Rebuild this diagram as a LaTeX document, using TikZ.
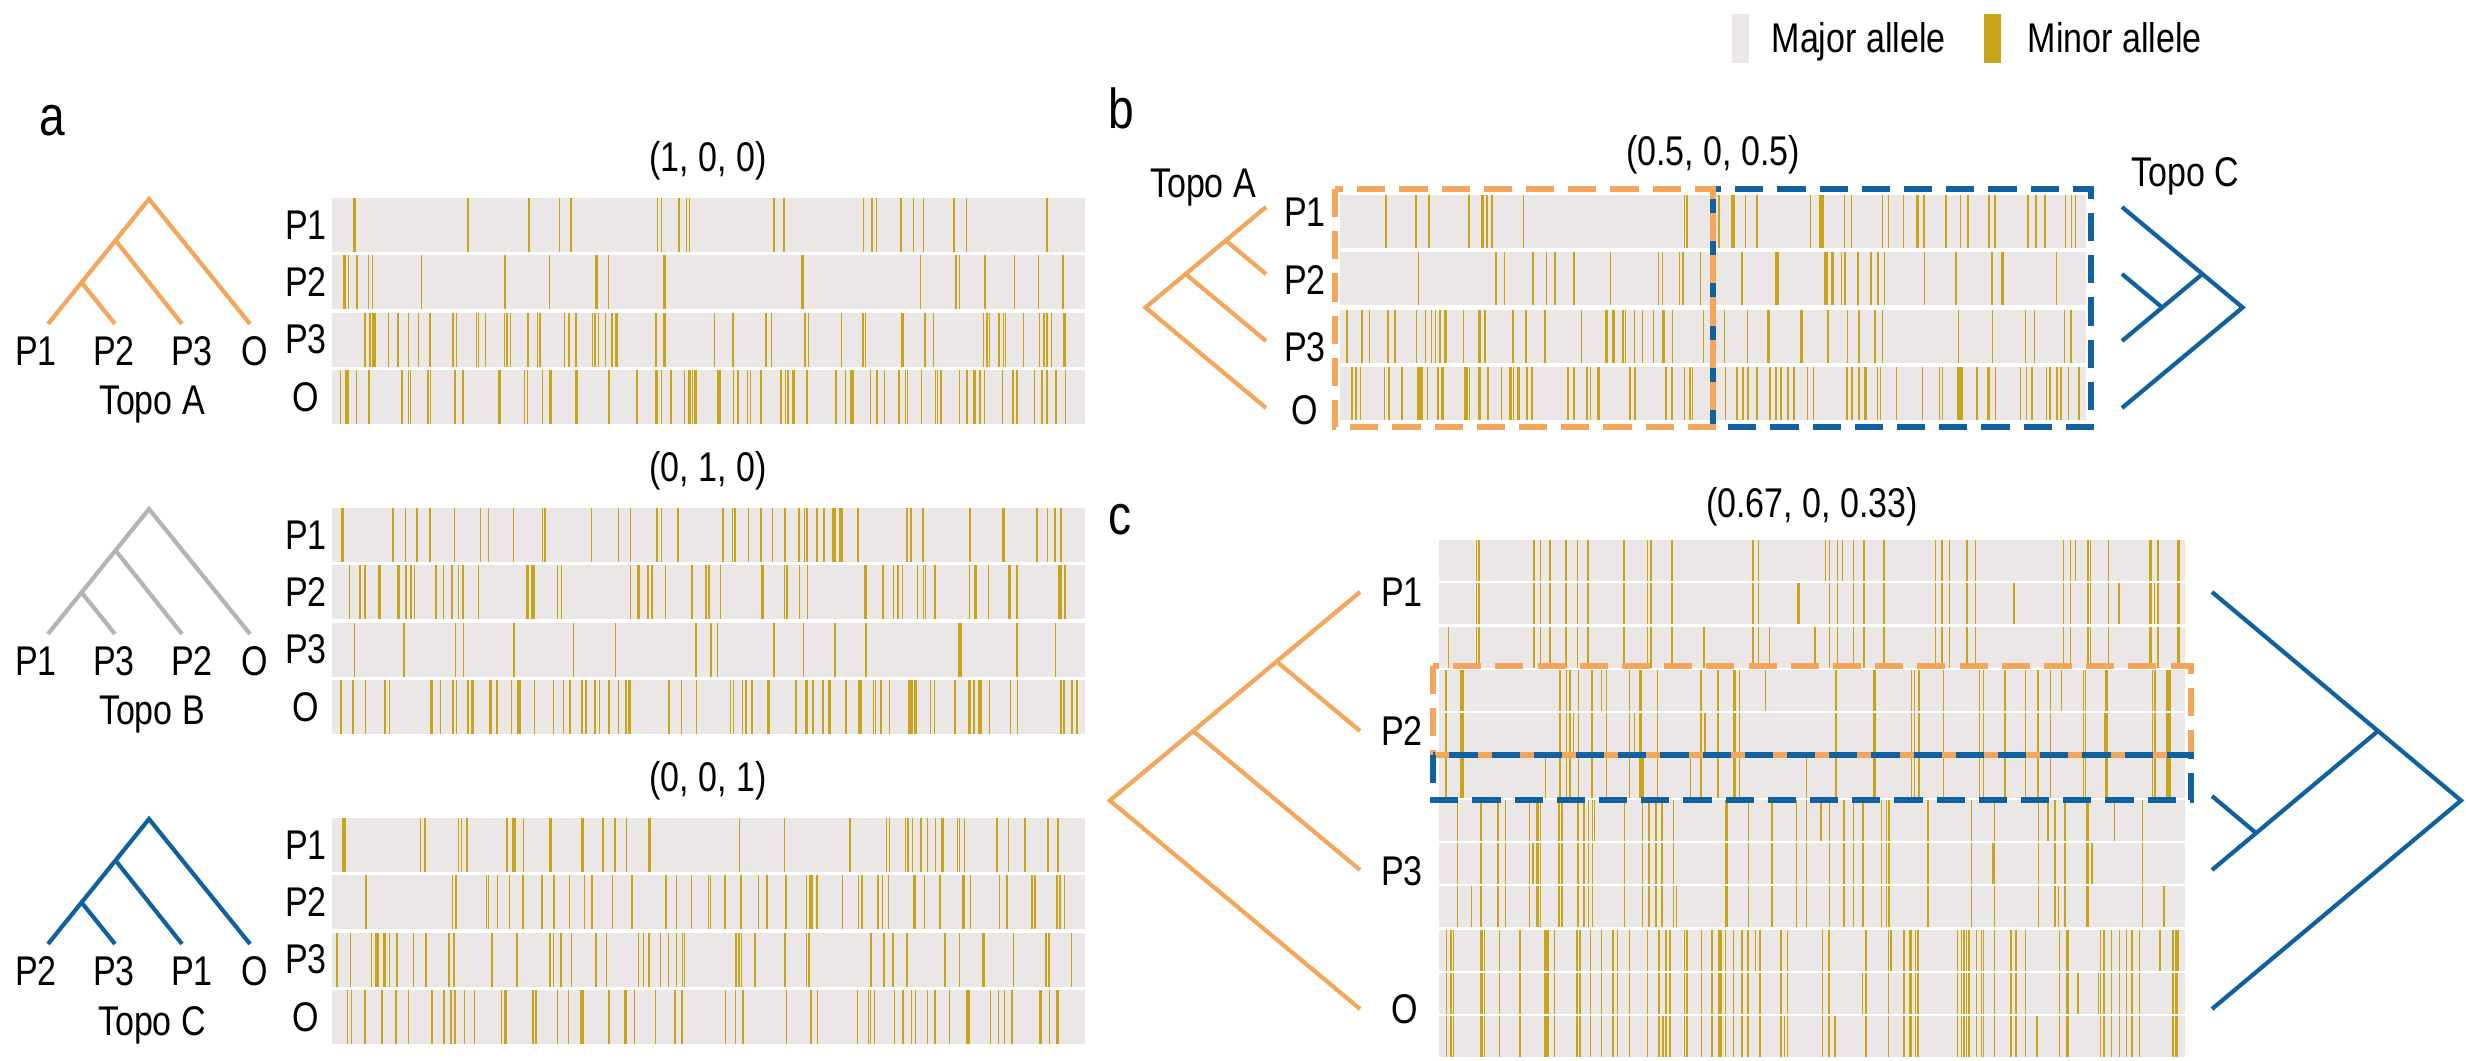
\documentclass[tikz,border=0pt]{standalone}
\usepackage{fontspec}
\setmainfont{Liberation Sans}[FakeStretch=0.82]

\definecolor{topoA}{RGB}{245,166,91}
\definecolor{topoB}{RGB}{180,180,180}
\definecolor{topoC}{RGB}{16,97,160}
\definecolor{major}{RGB}{235,231,231}
\definecolor{minor}{RGB}{199,164,24}

\tikzset{
  branch/.style={line width=1.2pt},
  lab/.style={font=\fontsize{11.8}{14}\selectfont, inner sep=0pt},
  panel/.style={font=\fontsize{16}{19}\selectfont, inner sep=0pt},
  dbox/.style={line width=1.6pt, dash pattern=on 8pt off 4pt},
}

% minor allele sites: x0, top, width, height, count, seed
\newcommand{\hapsites}[6]{%
  \pgfmathsetseed{#6}%
  \foreach \k in {1,...,#5}{%
    \pgfmathsetmacro{\sx}{#1+3+rnd*(#3-9)}%
    \pgfmathsetmacro{\sw}{1.2+3*rnd*rnd*rnd}%
    \fill[minor] (\sx,{#2}) rectangle ++(\sw,#4);%
  }%
}
\newcommand{\haptrack}[6]{%
  \fill[major] ({#1},{#2}) rectangle ++({#3},{#4});%
  \hapsites{#1}{#2}{#3}{#4}{#5}{#6}%
}
% small tree of panel a: name, shift, colour, leaf labels, topo letter
\newcommand{\topotree}[7]{%
  \begin{scope}[shift={(0,#2)}]
    \coordinate (#1r) at (149,199);
    \coordinate (#1n1) at (116,241);
    \coordinate (#1n2) at (82,283);
    \coordinate (#1l1) at (48,324);
    \coordinate (#1l2) at (115,324);
    \coordinate (#1l3) at (182,324);
    \coordinate (#1l4) at (250,324);
    \draw[branch,#3] (#1l1) -- (#1r) -- (#1l4);
    \draw[branch,#3] (#1n1) -- (#1l3);
    \draw[branch,#3] (#1n2) -- (#1l2);
    \node[lab] (#1a) at (36,351) {#4};
    \node[lab] (#1b) at (114,351) {#5};
    \node[lab] (#1c) at (192,351) {#6};
    \node[lab] (#1d) at (255,351) {O};
    \node[lab,anchor=base] (#1t) at (152,415) {Topo #7};
  \end{scope}}

\begin{document}
\begin{tikzpicture}[x=0.01cm, y=-0.01cm]
  \useasboundingbox (0,0) rectangle (2466,1061);

  %%%%% LEGEND %%%%%
  \fill[major] (1732,14) rectangle (1749,63);
  \node[lab,anchor=base west] (majtxt) at (1771,53) {Major allele};
  \fill[minor] (1984,14) rectangle (2001,63);
  \node[lab,anchor=base west] (mintxt) at (2027,53) {Minor allele};

  %%%%% PANEL A %%%%%
  \node[panel] (pa) at (52,121) {a};
  \topotree{tA}{0}{topoA}{P1}{P2}{P3}{A}
  \topotree{tB}{310}{topoB}{P1}{P3}{P2}{B}
  \topotree{tC}{620}{topoC}{P2}{P3}{P1}{C}

  \node[lab] (ta1) at (708,161) {(1, 0, 0)};
  \haptrack{332}{198}{753}{54}{22}{101}
  \haptrack{332}{255.3}{753}{54}{22}{102}
  \haptrack{332}{312.6}{753}{54}{60}{103}
  \haptrack{332}{369.9}{753}{54}{72}{104}

  \node[lab] (ta2) at (708,471) {(0, 1, 0)};
  \haptrack{332}{508}{753}{54}{45}{111}
  \haptrack{332}{565.3}{753}{54}{60}{112}
  \haptrack{332}{622.6}{753}{54}{18}{113}
  \haptrack{332}{679.9}{753}{54}{75}{114}

  \node[lab] (ta3) at (708,781) {(0, 0, 1)};
  \haptrack{332}{818}{753}{54}{42}{121}
  \haptrack{332}{875.3}{753}{54}{50}{122}
  \haptrack{332}{932.6}{753}{54}{50}{123}
  \haptrack{332}{989.9}{753}{54}{56}{124}

  \foreach \g in {0,1,2}{
    \foreach \r [count=\i from 0] in {P1,P2,P3,O}
      \node[lab] (a\g\r) at (306,{225+310*\g+57.3*\i}) {\r};
  }

  %%%%% PANEL B %%%%%
  \node[panel] (pb) at (1121,108) {b};
  \node[lab] (tb) at (1713,155) {(0.5, 0, 0.5)};
  \foreach \nl/\nr/\sa/\sb [count=\i from 0] in {10/28/201/251, 14/16/202/252, 32/16/203/253, 45/40/204/254}{
    \pgfmathsetmacro{\yy}{195+57.3*\i}
    \fill[major] (1340,\yy) rectangle ++(746,53);
    \hapsites{1340}{\yy}{373}{53}{\nl}{\sa}
    \hapsites{1713}{\yy}{373}{53}{\nr}{\sb}
  }
  \draw[dbox,topoC] (1713,189) rectangle (2091,427);
  \draw[dbox,topoA] (1335,189) rectangle (1713,427);

  % Topo A, pointing left
  \coordinate (bAr) at (1145.4,307.5);
  \coordinate (bAn1) at (1185.6,274);
  \coordinate (bAn2) at (1225.8,240.5);
  \coordinate (bAl1) at (1266,207);
  \coordinate (bAl2) at (1266,274);
  \coordinate (bAl3) at (1266,341);
  \coordinate (bAl4) at (1266,408);
  \draw[branch,topoA] (bAl1) -- (bAr) -- (bAl4);
  \draw[branch,topoA] (bAn1) -- (bAl3);
  \draw[branch,topoA] (bAn2) -- (bAl2);
  \node[lab,anchor=base] (bAt) at (1203,198) {Topo A};

  % Topo C, pointing right
  \coordinate (bCr) at (2242.6,307.5);
  \coordinate (bCn1) at (2202.4,274);
  \coordinate (bCn2) at (2162.2,307.5);
  \coordinate (bCl1) at (2122,207);
  \coordinate (bCl2) at (2122,274);
  \coordinate (bCl3) at (2122,341);
  \coordinate (bCl4) at (2122,408);
  \draw[branch,topoC] (bCl1) -- (bCr) -- (bCl4);
  \draw[branch,topoC] (bCn1) -- (bCl3);
  \draw[branch,topoC] (bCn2) -- (bCl2);
  \node[lab,anchor=base] (bCt) at (2185,187) {Topo C};

  \node[lab] (bP1) at (1305,212) {P1};
  \node[lab] (bP2) at (1305,280) {P2};
  \node[lab] (bP3) at (1305,347) {P3};
  \node[lab] (bO) at (1305,410) {O};

  %%%%% PANEL C %%%%%
  \node[panel] (pc) at (1120,520) {c};
  \node[lab] (tc) at (1812,507) {(0.67, 0, 0.33)};
  \foreach \p/\n/\s [count=\j from 0] in {P1/36/301, P2/40/302, P3/40/303, O/75/304}{
    \foreach \i in {0,1,2}{
      \pgfmathsetmacro{\yy}{540+43.3*(3*\j+\i)}
      \pgfmathtruncatemacro{\se}{\s+10*(\i+1)}
      \haptrack{1439}{\yy}{746}{41}{\n}{\s}
      \hapsites{1439}{\yy}{746}{41}{4}{\se}
    }
  }
  \draw[dbox,topoA] (1433,666) rectangle (2191,755);
  \draw[dbox,topoC] (1433,755) rectangle (2191,800);

  % Topo A, pointing left
  \coordinate (cAr) at (1109.8,800.5);
  \coordinate (cAn1) at (1193.2,731);
  \coordinate (cAn2) at (1276.6,661.5);
  \coordinate (cAl1) at (1360,592);
  \coordinate (cAl2) at (1360,731);
  \coordinate (cAl3) at (1360,870);
  \coordinate (cAl4) at (1360,1009);
  \draw[branch,topoA] (cAl1) -- (cAr) -- (cAl4);
  \draw[branch,topoA] (cAn1) -- (cAl3);
  \draw[branch,topoA] (cAn2) -- (cAl2);

  % Topo C, pointing right
  \coordinate (cCr) at (2461,800.5);
  \coordinate (cCn1) at (2378,731);
  \coordinate (cCn2) at (2256,833);
  \coordinate (cCl1) at (2212,592);
  \coordinate (cCl2) at (2212,796);
  \coordinate (cCl3) at (2212,870);
  \coordinate (cCl4) at (2212,1009);
  \draw[branch,topoC] (cCl1) -- (cCr) -- (cCl4);
  \draw[branch,topoC] (cCn1) -- (cCl3);
  \draw[branch,topoC] (cCn2) -- (cCl2);

  \node[lab] (cP1) at (1402,592) {P1};
  \node[lab] (cP2) at (1402,731) {P2};
  \node[lab] (cP3) at (1402,871) {P3};
  \node[lab] (cO) at (1405,1009) {O};
\end{tikzpicture}
\end{document}
